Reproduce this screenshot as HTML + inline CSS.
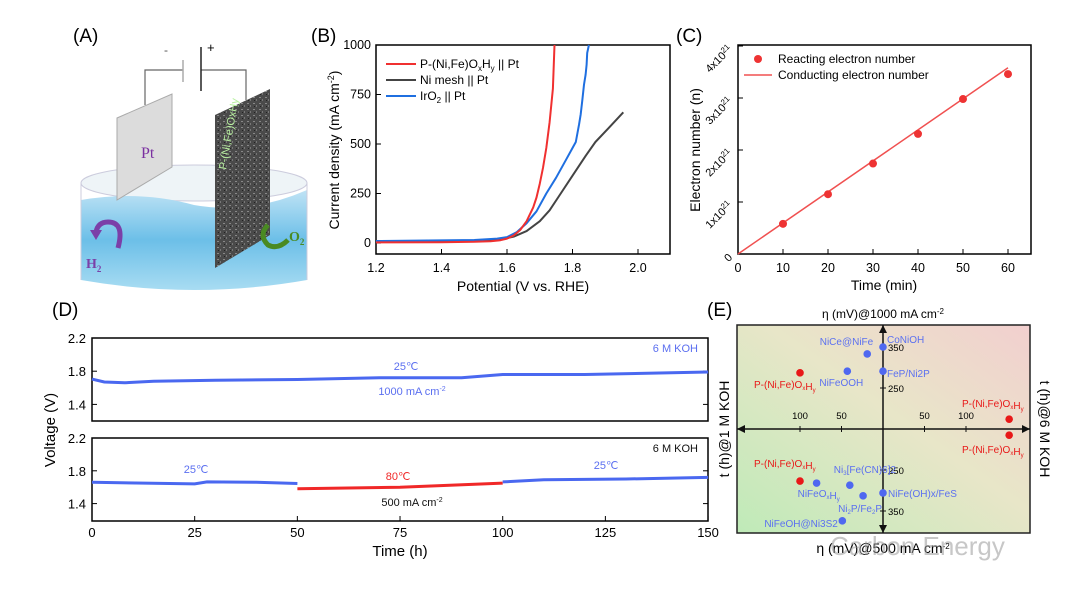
<!DOCTYPE html>
<html><head><meta charset="utf-8"><style>
html,body{margin:0;padding:0;background:#fff;width:1080px;height:595px;overflow:hidden}
svg{display:block;font-family:"Liberation Sans",sans-serif}
</style></head><body>
<svg id="fig" width="1080" height="595" viewBox="0 0 1080 595">
<defs>
<linearGradient id="water" x1="0" y1="0" x2="0" y2="1"><stop offset="0" stop-color="#bfe3f5"/><stop offset="0.5" stop-color="#6cbfe8"/><stop offset="1" stop-color="#a8dcf2"/></linearGradient>
<linearGradient id="ebg" x1="0" y1="1" x2="1" y2="0"><stop offset="0" stop-color="#bfeab8"/><stop offset="0.55" stop-color="#e8e6c8"/><stop offset="1" stop-color="#f2cfcf"/></linearGradient>
<pattern id="noise" width="6" height="6" patternUnits="userSpaceOnUse"><rect width="6" height="6" fill="#4a4a4a"/><rect x="1" y="1" width="2" height="1" fill="#888"/><rect x="4" y="3" width="1" height="2" fill="#777"/><rect x="2" y="4" width="1" height="1" fill="#222"/></pattern>
</defs>

<g>
<text x="73" y="42" font-size="19">(A)</text>
<ellipse cx="194" cy="183" rx="113" ry="18" fill="#eef4f7" stroke="#ccd"/>
<path d="M81 200 Q140 190 194 205 Q250 215 307 190 L307 280 Q194 300 81 280 Z" fill="url(#water)"/>
<path d="M81 183 L81 280 M307 183 L307 280" stroke="#ccd" fill="none"/>
<path d="M145 105 L145 70 L183 70 M201 70 L246 70 L246 100" stroke="#666" fill="none" stroke-width="1.2"/>
<line x1="183" y1="60" x2="183" y2="82" stroke="#aaa" stroke-width="1.5"/>
<line x1="201" y1="47" x2="201" y2="91" stroke="#222" stroke-width="1.5"/>
<text x="164" y="54" font-size="12" fill="#555">-</text><text x="207" y="52" font-size="13">+</text>
<polygon points="117,118 172,94 172,167 117,200" fill="#dcdcdc" stroke="#aaa"/>
<text x="141" y="158" font-size="16" fill="#7a2fa0" font-family="Liberation Serif,serif">Pt</text>
<polygon points="215,115 270,89 270,235 215,268" fill="url(#noise)"/>
<text x="0" y="0" font-size="11" fill="#b8f0a0" transform="translate(226,170) rotate(-80)">P-(Ni,Fe)OxHy</text>
<path d="M118 248 Q125 222 108 222 Q98 222 96 232" stroke="#7b3fa8" stroke-width="5" fill="none"/>
<polygon points="90,230 102,230 96,240" fill="#7b3fa8"/>
<text x="86" y="268" font-size="14" font-weight="bold" fill="#7b3fa8" font-family="Liberation Serif,serif">H<tspan font-size="9" dy="4">2</tspan></text>
<path d="M268 225 Q258 235 268 245 Q278 250 288 240" stroke="#4a8a22" stroke-width="5" fill="none"/>
<text x="289" y="241" font-size="14" font-weight="bold" fill="#4a8a22" font-family="Liberation Serif,serif">O<tspan font-size="9" dy="4">2</tspan></text>
</g>

<text x="311" y="42" font-size="19">(B)</text>
<text x="676" y="42" font-size="19">(C)</text>
<text x="52" y="316" font-size="19">(D)</text>
<text x="707" y="316" font-size="19">(E)</text>

<g id="gB"></g>
<g id="gC"></g>
<g id="gD"></g>
<g id="gE"></g>
<text x="830" y="555" font-size="26" fill="#9a9a9a" opacity="0.55">Carbon Energy</text>
</svg>
<script>
// ---------- Panel B data ----------
const bXTicks=[1.2,1.4,1.6,1.8,2.0];
const bYTicks=[0,250,500,750,1000];
const redV=[1.2,1.4,1.5,1.55,1.58,1.6,1.62,1.64,1.66,1.68,1.69,1.70,1.71,1.72,1.73,1.74,1.745];
const redJ=[3,4,6,9,14,22,38,65,110,180,230,300,380,480,610,780,1000];
const blackV=[1.2,1.5,1.58,1.62,1.66,1.70,1.73,1.76,1.80,1.84,1.87,1.91,1.955];
const blackJ=[8,10,18,32,60,110,165,240,340,440,510,580,660];
const blueV=[1.2,1.5,1.57,1.6,1.63,1.66,1.69,1.72,1.75,1.78,1.80,1.81,1.82,1.825,1.83,1.835,1.84,1.843,1.845,1.85];
const blueJ=[10,15,22,30,55,100,160,250,330,420,480,510,600,650,720,800,850,900,960,1000];
// ---------- Panel C data ----------
const cTimes=[10,20,30,40,50,60];
const cReacting=[0.58,1.15,1.74,2.31,2.98,3.46];
const cLineT=[0,60];
const cLineN=[0,3.58];
const cXTicks=[0,10,20,30,40,50,60];
const cYTicks=[0,1,2,3,4];
// ---------- Panel D data ----------
const dXTicks=[0,25,50,75,100,125,150];
const dYTicks=[1.4,1.8,2.2];
const dTopT=[0,3,8,15,30,50,70,90,100,120,150];
const dTopV=[1.705,1.67,1.66,1.68,1.69,1.70,1.72,1.72,1.76,1.76,1.79];
const dB1T=[0,25,28,40,50];
const dB1V=[1.66,1.64,1.665,1.66,1.645];
const dRedT=[50,75,100];
const dRedV=[1.58,1.60,1.65];
const dB2T=[100,110,130,150];
const dB2V=[1.665,1.69,1.70,1.72];
// ---------- Panel E data ----------
const eTopNames=["P-(Ni,Fe)OxHy","NiCe@NiFe","CoNiOH","NiFeOOH","FeP/Ni2P"];
const eTopT=[-100,-19,0,-43,0];
const eTopEta=[287,333,350,291,291];
const eBotNames=["P-(Ni,Fe)OxHy","NiFeOxHy","Ni3[Fe(CN)6]2","Ni2P/Fe2P","NiFe(OH)x/FeS","NiFeOH@Ni3S2"];
const eBotT=[-100,-80,-40,-24,0,-49];
const eBotEta=[277,282,287,313,306,374];
const eRightT=[152,152];
const eRightEta=[174,165];

const NS="http://www.w3.org/2000/svg";
function mk(p,tag,at,txt){const e=document.createElementNS(NS,tag);for(const k in at)e.setAttribute(k,at[k]);if(txt!==undefined)e.textContent=txt;p.appendChild(e);return e;}
function pathD(xs,ys,fx,fy){return xs.map((x,i)=>(i?'L':'M')+fx(x).toFixed(1)+' '+fy(ys[i]).toFixed(1)).join(' ');}

// ===== Panel B =====
(function(){
const g=document.getElementById('gB');
const x=v=>376+(v-1.2)*327.5, y=j=>243-j*0.198;
let r=mk(g,'rect',{x:376,y:45,width:294,height:209,fill:'none',stroke:'#000','stroke-width':1.5});


bXTicks.forEach(t=>{mk(g,'line',{x1:x(t),x2:x(t),y1:254,y2:249,stroke:'#000'});
 let e=mk(g,'text',{x:x(t),y:272,'font-size':12.5,'text-anchor':'middle'},t.toFixed(1));
 
 });
bYTicks.forEach(t=>{mk(g,'line',{x1:376,x2:381,y1:y(t),y2:y(t),stroke:'#000'});
 let e=mk(g,'text',{x:371,y:y(t)+4,'font-size':12.5,'text-anchor':'end'},t);
 
 });
let xt=mk(g,'text',{x:523,y:291,'font-size':14,'text-anchor':'middle'},'Potential (V vs. RHE)');


let yt=mk(g,'text',{x:0,y:0,'font-size':14,'text-anchor':'middle',transform:'translate(339,150) rotate(-90)'});
yt.innerHTML='Current density (mA cm<tspan dy="-5" font-size="9">-2</tspan><tspan dy="5">)</tspan>';


[[blackV,blackJ,'#444','black-curve'],[blueV,blueJ,'#1f6fe0','blue-curve'],[redV,redJ,'#f03030','red-curve']].forEach(s=>{
 let p=mk(g,'path',{d:pathD(s[0],s[1],x,y),fill:'none',stroke:s[2],'stroke-width':2,'stroke-linejoin':'round'});
 
 });
const leg=[['#f03030','P-(Ni,Fe)O<tspan font-size="8" dy="3">x</tspan><tspan dy="-3">H</tspan><tspan font-size="8" dy="3">y</tspan><tspan dy="-3"> || Pt</tspan>'],['#444','Ni mesh || Pt'],['#1f6fe0','IrO<tspan font-size="8" dy="3">2</tspan><tspan dy="-3"> || Pt</tspan>']];
leg.forEach((l,i)=>{const yy=64+i*16;mk(g,'line',{x1:386,x2:416,y1:yy,y2:yy,stroke:l[0],'stroke-width':2});
 let e=mk(g,'text',{x:420,y:yy+4,'font-size':12}); e.innerHTML=l[1];
 
 });
})();

// ===== Panel C =====
(function(){
const g=document.getElementById('gC');
const x=t=>738+t*4.5, y=n=>254-n*52;
let r=mk(g,'rect',{x:738,y:45,width:293,height:209,fill:'none',stroke:'#000','stroke-width':1.5});


cXTicks.forEach(t=>{mk(g,'line',{x1:x(t),x2:x(t),y1:254,y2:249,stroke:'#000'});
 let e=mk(g,'text',{x:x(t),y:272,'font-size':12.5,'text-anchor':'middle'},t);
 
 });
cYTicks.forEach(t=>{mk(g,'line',{x1:738,x2:743,y1:y(t),y2:y(t),stroke:'#000'});
 let e=mk(g,'text',{x:0,y:0,'font-size':11,'text-anchor':'end',transform:`translate(733,${y(t)+4}) rotate(-45)`});
 e.innerHTML=t===0?'0':t+'x10<tspan dy="-4" font-size="8">21</tspan>';
 
 });
let xt=mk(g,'text',{x:884,y:290,'font-size':14,'text-anchor':'middle'},'Time (min)');


let yt=mk(g,'text',{x:0,y:0,'font-size':14,'text-anchor':'middle',transform:'translate(700,150) rotate(-90)'},'Electron number (n)');


let ln=mk(g,'path',{d:pathD(cLineT,cLineN,x,y),stroke:'#f05050','stroke-width':1.5,fill:'none'});


cTimes.forEach((t,i)=>{let c=mk(g,'circle',{cx:x(t),cy:y(cReacting[i]),r:4,fill:'#ee3333'});
 
 });
mk(g,'circle',{cx:758,cy:59,r:4,fill:'#ee3333'});
mk(g,'line',{x1:744,x2:772,y1:75,y2:75,stroke:'#f05050','stroke-width':1.5});
let l1=mk(g,'text',{x:778,y:63,'font-size':12},'Reacting electron number');


let l2=mk(g,'text',{x:778,y:79,'font-size':12},'Conducting electron number');


})();

// ===== Panel D =====
(function(){
const g=document.getElementById('gD');
const x=t=>92+t*4.107;
const yT=v=>338+(2.2-v)*83, yB=v=>438+(2.2-v)*82;
[[338,yT,'top-panel-frame'],[438,yB,'bottom-panel-frame']].forEach(p=>{
 let r=mk(g,'rect',{x:92,y:p[0],width:616,height:83,fill:'none',stroke:'#000','stroke-width':1.5});
 
 
 dYTicks.forEach(t=>{mk(g,'line',{x1:92,x2:97,y1:p[1](t),y2:p[1](t),stroke:'#000'});mk(g,'line',{x1:703,x2:708,y1:p[1](t),y2:p[1](t),stroke:'#000'});
  let e=mk(g,'text',{x:86,y:p[1](t)+5,'font-size':13,'text-anchor':'end'},t.toFixed(1));
  
  });
});
dXTicks.forEach(t=>{mk(g,'line',{x1:x(t),x2:x(t),y1:521,y2:516,stroke:'#000'});
 let e=mk(g,'text',{x:x(t),y:537,'font-size':13,'text-anchor':'middle'},t);
 
 });
let xt=mk(g,'text',{x:400,y:556,'font-size':15,'text-anchor':'middle'},'Time (h)');


let yt=mk(g,'text',{x:0,y:0,'font-size':15,'text-anchor':'middle',transform:'translate(55,430) rotate(-90)'},'Voltage (V)');


[[dTopT,dTopV,yT,'#4a68f0','top-voltage-line'],[dB1T,dB1V,yB,'#4a68f0','bottom-voltage-25c-a'],[dRedT,dRedV,yB,'#f02828','bottom-voltage-80c'],[dB2T,dB2V,yB,'#4a68f0','bottom-voltage-25c-b']].forEach(s=>{
 let p=mk(g,'path',{d:pathD(s[0],s[1],x,s[2]),fill:'none',stroke:s[3],'stroke-width':3});
 
 });
const ann=[[406,370,'25℃','#5b6ff0'],[412,395,'1000 mA cm<tspan dy="-4" font-size="7">-2</tspan>','#5b6ff0'],[698,352,'6 M KOH','#5b6ff0'],[196,473,'25℃','#5b6ff0'],[398,480,'80℃','#f02828'],[412,506,'500 mA cm<tspan dy="-4" font-size="7">-2</tspan>','#111'],[698,452,'6 M KOH','#111'],[606,469,'25℃','#5b6ff0']];
ann.forEach(a=>{let e=mk(g,'text',{x:a[0],y:a[1],'font-size':11,fill:a[3],'text-anchor':a[2].indexOf('KOH')>0?'end':'middle'});e.innerHTML=a[2];
 
 });
})();

// ===== Panel E =====
(function(){
const g=document.getElementById('gE');
const cx=883, cy=429;
const x=t=>cx+t*0.83;
const yTop=e=>cy-(e-150)*0.41, yBot=e=>cy+(e-150)*0.41;
let bg=mk(g,'rect',{x:737,y:325,width:293,height:208,fill:'url(#ebg)',stroke:'#222','stroke-width':1.5});


mk(g,'line',{x1:737,x2:1030,y1:cy,y2:cy,stroke:'#111','stroke-width':1.5});
mk(g,'line',{x1:cx,x2:cx,y1:325,y2:533,stroke:'#111','stroke-width':1.5});
mk(g,'polygon',{points:'1030,429 1022,425 1022,433',fill:'#111'});
mk(g,'polygon',{points:'737,429 745,425 745,433',fill:'#111'});
mk(g,'polygon',{points:'883,325 879,333 887,333',fill:'#111'});
mk(g,'polygon',{points:'883,533 879,525 887,525',fill:'#111'});
[-100,-50,50,100].forEach(t=>{mk(g,'line',{x1:x(t),x2:x(t),y1:cy-3,y2:cy+3,stroke:'#111'});
 let e=mk(g,'text',{x:x(t),y:cy-10,'font-size':9.5,'text-anchor':'middle'},Math.abs(t));
 
 });
[250,350].forEach(v=>{[yTop,yBot].forEach(f=>{mk(g,'line',{x1:cx-3,x2:cx+3,y1:f(v),y2:f(v),stroke:'#111'});
 let e=mk(g,'text',{x:cx+5,y:f(v)+4,'font-size':9.5},v);
 
 });});
const sub=s=>s.replace(/x(?=H)/,'<tspan font-size="6" dy="2">x</tspan><tspan dy="-2"></tspan>').replace(/Hy$/,'H<tspan font-size="6" dy="2">y</tspan>');
const topLab=[[-18,-14,'end'],[6,-9,'end'],[4,-4,'start'],[-6,15,'middle'],[4,6,'start']];
eTopT.forEach((t,i)=>{const red=i===0;let c=mk(g,'circle',{cx:x(t),cy:yTop(eTopEta[i]),r:3.8,fill:red?'#e81818':'#4f68f0'});
 
 
 let e=mk(g,'text',{x:x(t)+(red?-46:topLab[i][0]),y:yTop(eTopEta[i])+(red?15:topLab[i][1]),'font-size':10,fill:red?'#e81818':'#5b70f0','text-anchor':red?'start':topLab[i][2]});
 e.innerHTML=sub(eTopNames[i]);
 
 });
const botLab=[[-46,-14,'start'],[-19,14,'start'],[-16,-12,'start'],[-25,16,'start'],[5,4,'start'],[-78,6,'start']];
eBotT.forEach((t,i)=>{const red=i===0;let c=mk(g,'circle',{cx:x(t),cy:yBot(eBotEta[i]),r:3.8,fill:red?'#e81818':'#4f68f0'});
 
 
 let e=mk(g,'text',{x:x(t)+botLab[i][0],y:yBot(eBotEta[i])+botLab[i][1],'font-size':10,fill:red?'#e81818':'#5b70f0'});
 e.innerHTML=sub(eBotNames[i]).replace('3[','<tspan font-size="6" dy="2">3</tspan><tspan dy="-2">[</tspan>').replace('2P/Fe2P','<tspan font-size="6" dy="2">2</tspan><tspan dy="-2">P/Fe</tspan><tspan font-size="6" dy="2">2</tspan><tspan dy="-2">P</tspan>');
 
 });
eRightT.forEach((t,i)=>{const yy=i===0?yTop(eRightEta[i]):yBot(eRightEta[i]);
 let c=mk(g,'circle',{cx:x(t),cy:yy,r:3.8,fill:'#e81818'});
 
 
 let e=mk(g,'text',{x:962,y:yy+(i===0?-12:18),'font-size':10,fill:'#e81818'});e.innerHTML=sub('P-(Ni,Fe)OxHy');
 
 });
let tt=mk(g,'text',{x:883,y:318,'font-size':12,'text-anchor':'middle'});tt.innerHTML='η (mV)@1000 mA cm<tspan dy="-4" font-size="8">-2</tspan>';


let bt=mk(g,'text',{x:883,y:553,'font-size':14,'text-anchor':'middle'});bt.innerHTML='η (mV)@500 mA cm<tspan dy="-4" font-size="8">-2</tspan>';


let lt=mk(g,'text',{x:0,y:0,'font-size':14,'text-anchor':'middle',transform:'translate(729,429) rotate(-90)'},'t (h)@1 M KOH');


let rt=mk(g,'text',{x:0,y:0,'font-size':14,'text-anchor':'middle',transform:'translate(1040,429) rotate(90)'},'t (h)@6 M KOH');


})();
</script>
</body></html>
